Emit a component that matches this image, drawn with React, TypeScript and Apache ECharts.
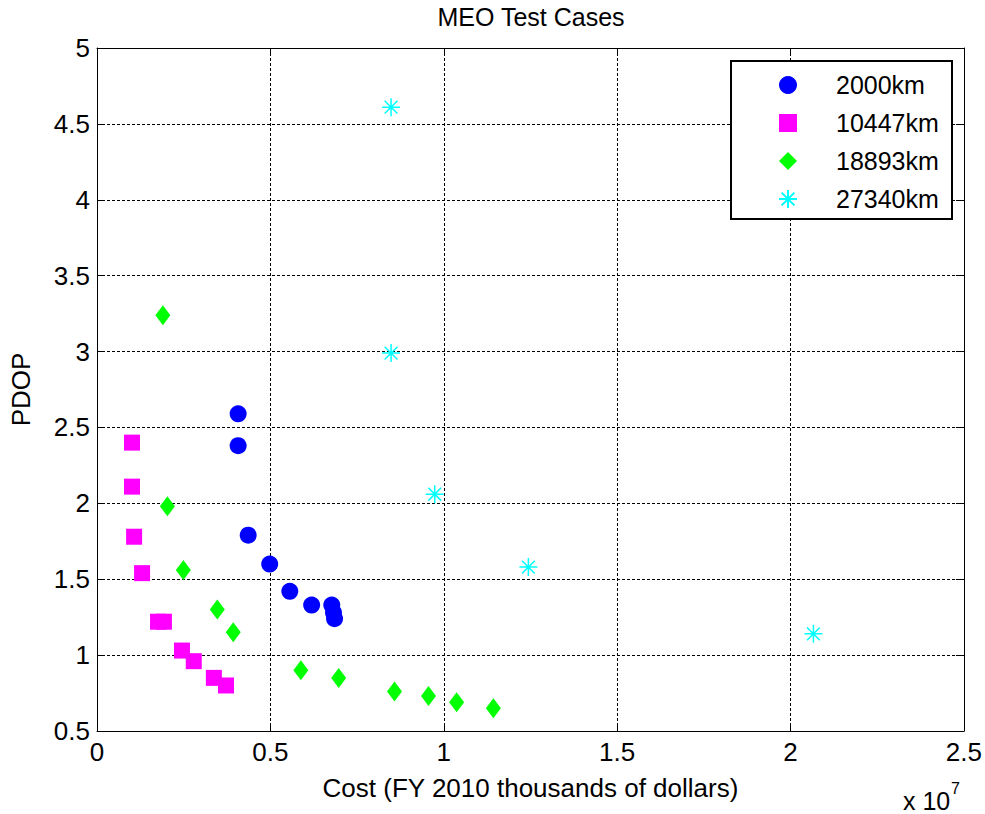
import React, { useEffect, useRef } from 'react';
import * as echarts from 'echarts';

// Cost in units of 10^7 (FY 2010 thousands of dollars), PDOP
const alt2000km: number[][] = [
  [0.407, 2.59], [0.407, 2.38], [0.436, 1.79], [0.498, 1.6], [0.556, 1.42],
  [0.619, 1.33], [0.677, 1.33], [0.682, 1.28], [0.685, 1.24],
];
const alt10447km: number[][] = [
  [0.101, 2.4], [0.101, 2.11], [0.107, 1.78], [0.13, 1.54], [0.176, 1.22],
  [0.193, 1.22], [0.245, 1.03], [0.279, 0.96], [0.337, 0.85], [0.372, 0.8],
];
const alt18893km: number[][] = [
  [0.19, 3.24], [0.203, 1.98], [0.249, 1.56], [0.347, 1.3], [0.393, 1.15],
  [0.588, 0.9], [0.697, 0.85], [0.858, 0.76], [0.956, 0.73], [1.037, 0.69], [1.143, 0.65],
];
const alt27340km: number[][] = [
  [0.848, 4.61], [0.848, 2.99], [0.974, 2.06], [1.244, 1.58], [2.066, 1.14],
];
const seriesNames = ['2000km', '10447km', '18893km', '27340km'];
const seriesColors = ['#0000FF', '#FF00FF', '#00FF00', '#00FFFF'];

const FONT = "'Liberation Sans', Arial, Helvetica, sans-serif";
const FS = 26;
const FS_SMALL = 25;
const STAR = 'path://M9,0L9,18M0,9L18,9M2.6,2.6L15.4,15.4M2.6,15.4L15.4,2.6';

export default function App() {
  const ref = useRef<HTMLDivElement>(null);
  useEffect(() => {
    document.body.style.margin = '0';
    const chart = echarts.init(ref.current!, undefined, { renderer: 'svg' });
    const axisLine = { show: true, onZero: false, lineStyle: { color: '#000', width: 1 } };
    const axisTick = { show: true, inside: true, length: 8, lineStyle: { color: '#000', width: 1 } };
    const splitLine = { show: true, lineStyle: { color: '#000', width: 1, type: [3, 2] } };
    const labelStyle = { color: '#000', fontSize: FS, fontFamily: FONT };
    chart.setOption({
      animation: false,
      backgroundColor: '#fff',
      title: {
        text: 'MEO Test Cases',
        left: 531,
        top: 4,
        textAlign: 'center',
        padding: 0,
        textStyle: { color: '#000', fontSize: FS_SMALL, fontFamily: FONT, fontWeight: 'normal' },
      },
      grid: { left: 97, top: 48, right: 20, bottom: 83, containLabel: false },
      xAxis: [
        {
          type: 'value', min: 0, max: 2.5, interval: 0.5, position: 'bottom',
          name: 'Cost (FY 2010 thousands of dollars)', nameLocation: 'middle', nameGap: 44,
          nameTextStyle: labelStyle,
          axisLine, axisTick, splitLine,
          axisLabel: { ...labelStyle, margin: 8 },
        },
        {
          type: 'value', min: 0, max: 2.5, interval: 0.5, position: 'top',
          axisLine, axisTick, splitLine: { show: false }, axisLabel: { show: false },
        },
      ],
      yAxis: [
        {
          type: 'value', min: 0.5, max: 5, interval: 0.5, position: 'left',
          name: 'PDOP', nameLocation: 'middle', nameGap: 63, nameRotate: 90,
          nameTextStyle: labelStyle,
          axisLine, axisTick, splitLine,
          axisLabel: { ...labelStyle, margin: 7 },
        },
        {
          type: 'value', min: 0.5, max: 5, interval: 0.5, position: 'right',
          axisLine, axisTick, splitLine: { show: false }, axisLabel: { show: false },
        },
      ],
      legend: {
        orient: 'vertical', left: 778, top: 70, itemWidth: 18, itemHeight: 18, itemGap: 8,
        padding: 0, z: 10, data: seriesNames, selectedMode: false,
        textStyle: { color: '#000', fontSize: FS_SMALL, fontFamily: FONT, lineHeight: 30, padding: [0, 0, 0, 34] },
      },
      graphic: [
        {
          type: 'rect', z: 5,
          shape: { x: 731, y: 61, width: 221, height: 158 },
          style: { fill: '#fff', stroke: '#000', lineWidth: 2 },
        },
        {
          type: 'text', x: 903, y: 801, z: 5,
          style: { text: 'x 10', fill: '#000', fontSize: FS_SMALL, fontFamily: FONT, verticalAlign: 'middle', align: 'left' },
        },
        {
          type: 'text', x: 951, y: 788, z: 5,
          style: { text: '7', fill: '#000', fontSize: 16, fontFamily: FONT, verticalAlign: 'middle', align: 'left' },
        },
      ],
      series: [
        { type: 'scatter', name: seriesNames[0], data: alt2000km, symbol: 'circle', symbolSize: 17, itemStyle: { color: seriesColors[0], opacity: 1 } },
        { type: 'scatter', name: seriesNames[1], data: alt10447km, symbol: 'rect', symbolSize: 16, itemStyle: { color: seriesColors[1], opacity: 1 } },
        { type: 'scatter', name: seriesNames[2], data: alt18893km, symbol: 'diamond', symbolSize: [15, 20], itemStyle: { color: seriesColors[2], opacity: 1 } },
        {
          type: 'scatter', name: seriesNames[3], data: alt27340km, symbol: STAR, symbolSize: 18,
          itemStyle: { color: seriesColors[3], borderColor: seriesColors[3], borderWidth: 1.5, opacity: 1 },
        },
      ],
    });
    return () => chart.dispose();
  }, []);
  return <div ref={ref} style={{ width: 985, height: 814 }} />;
}
